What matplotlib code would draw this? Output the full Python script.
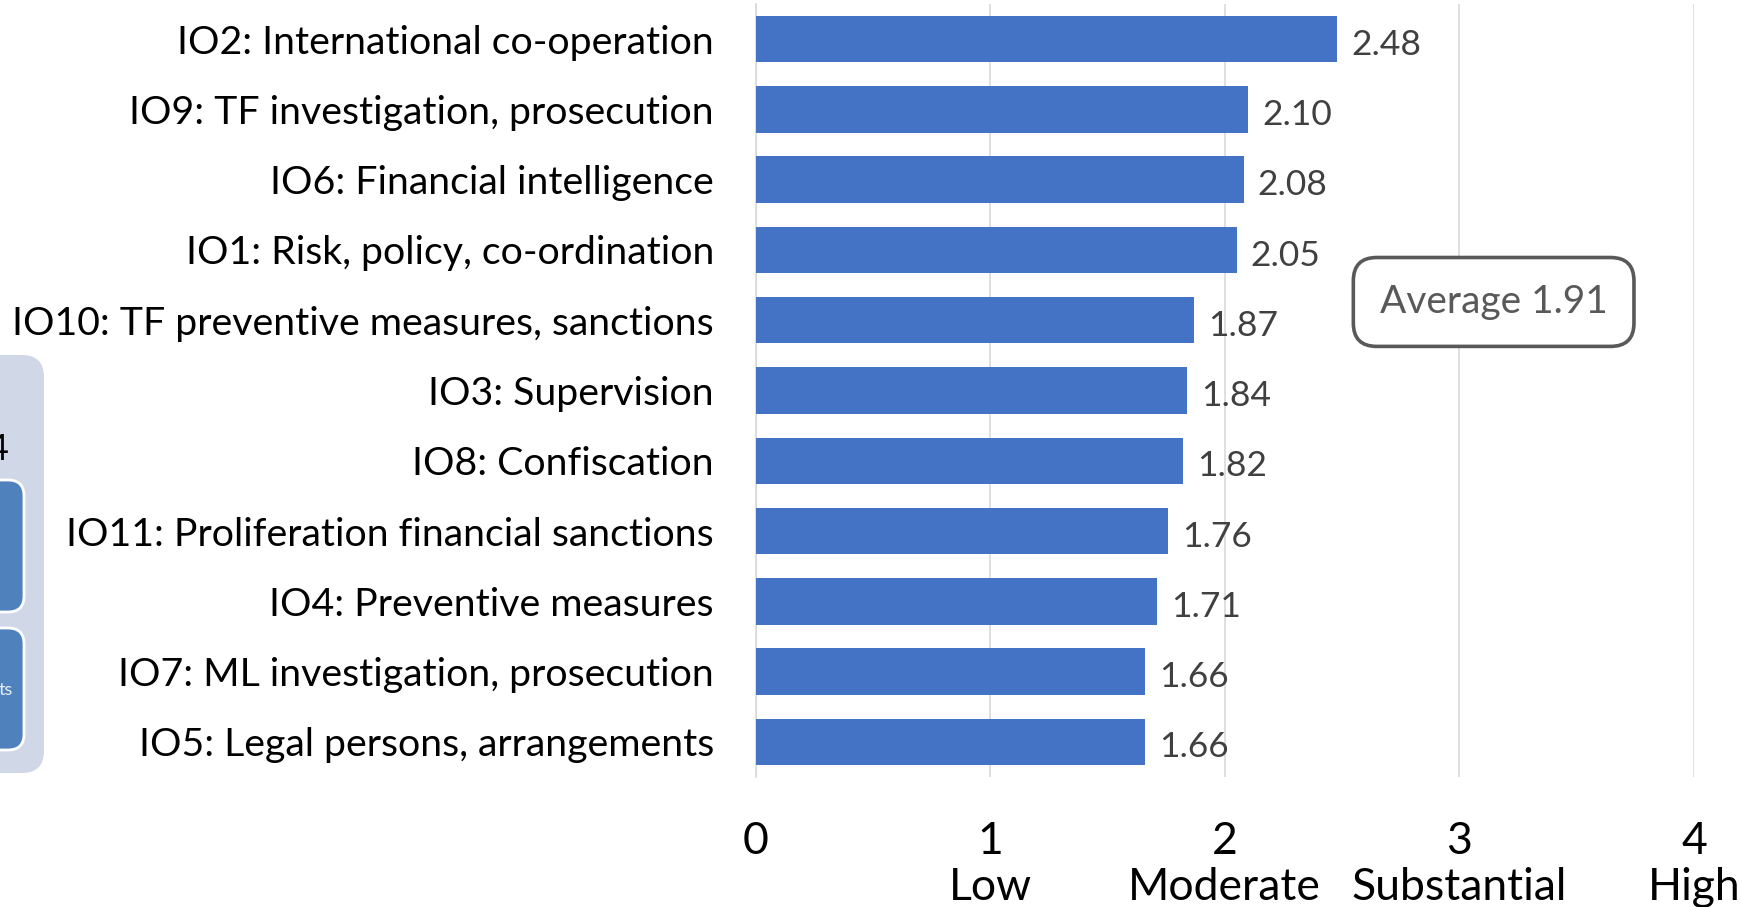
import matplotlib
matplotlib.use('Agg')
from matplotlib import pyplot as plt
from matplotlib.patches import FancyBboxPatch

plt.rcParams['font.family'] = ['Lato', 'DejaVu Sans']

labels = ['IO2: International co-operation',
          'IO9: TF investigation, prosecution',
          'IO6: Financial intelligence',
          'IO1: Risk, policy, co-ordination',
          'IO10: TF preventive measures, sanctions',
          'IO3: Supervision',
          'IO8: Confiscation',
          'IO11: Proliferation financial sanctions',
          'IO4: Preventive measures',
          'IO7: ML investigation, prosecution',
          'IO5: Legal persons, arrangements']
scores = [2.48, 2.10, 2.08, 2.05, 1.87, 1.84, 1.82, 1.76, 1.71, 1.66, 1.66]
average = 1.91
xticks = [0, 1, 2, 3, 4]
xtick_labels = ['0', '1\nLow', '2\nModerate', '3\nSubstantial', '4\nHigh']

W, H = 1742, 907
fig = plt.figure(figsize=(W / 100, H / 100), dpi=100)
ax = fig.add_axes([755.6 / W, 1 - 777 / H, (1694 - 755.6) / W, (777 - 4) / H])

pos = list(range(len(labels)))
ax.barh(pos, scores, height=0.66, color='#4472C4', zorder=3)
ax.set_ylim(len(labels) - 0.5, -0.5)
ax.set_xlim(0, 4)

ax.set_yticks(pos)
ax.set_yticklabels(labels, fontsize=28.3, color='black')
ax.tick_params(axis='y', length=0, pad=30)
ax.set_xticks(xticks)
ax.set_xticklabels(xtick_labels, fontsize=32, color='black', linespacing=1.13, va='top')
ax.tick_params(axis='x', length=0, pad=32)

ax.grid(axis='x', color='#D9D9D9', linewidth=1.2, zorder=0)
for s in ['top', 'right', 'bottom']:
    ax.spines[s].set_visible(False)
ax.spines['left'].set_color('#D9D9D9')
ax.spines['left'].set_linewidth(1.2)

for p, v in zip(pos, scores):
    ax.text(v + 0.06, p + 0.08, f'{v:.2f}', fontsize=25.5, color='#404040',
            va='center', ha='left')

ax.text(3.146, 3.74, f'Average {average:.2f}', fontsize=28, color='#595959',
        ha='center', va='center', zorder=5,
        bbox=dict(boxstyle='round,pad=0.68,rounding_size=0.6', fc='white',
                  ec='#595959', lw=2.6))

# partially visible diagram on the left edge
def fbox(x0, y0, x1, y1, fc, ec, lw, r):
    fig.patches.append(FancyBboxPatch((x0 / W, 1 - y1 / H), (x1 - x0) / W, (y1 - y0) / H,
                                      boxstyle=f'round,pad=0,rounding_size={r / W}',
                                      transform=fig.transFigure, fc=fc, ec=ec, lw=lw,
                                      mutation_aspect=W / H))

fbox(-60, 355, 44, 773, '#D0D8E8', 'none', 0, 22)
fbox(-60, 480, 24, 612, '#4F81BD', 'white', 2, 16)
fbox(-60, 628, 24, 750, '#4F81BD', 'white', 2, 16)
fig.text(9 / W, 1 - 450 / H, '4', fontsize=26, color='black', ha='right', va='center')
fig.text(13 / W, 1 - 690 / H, 'ts', fontsize=13, color='#E8EEF7', ha='right', va='center')

fig.savefig('out.png', dpi=100)
